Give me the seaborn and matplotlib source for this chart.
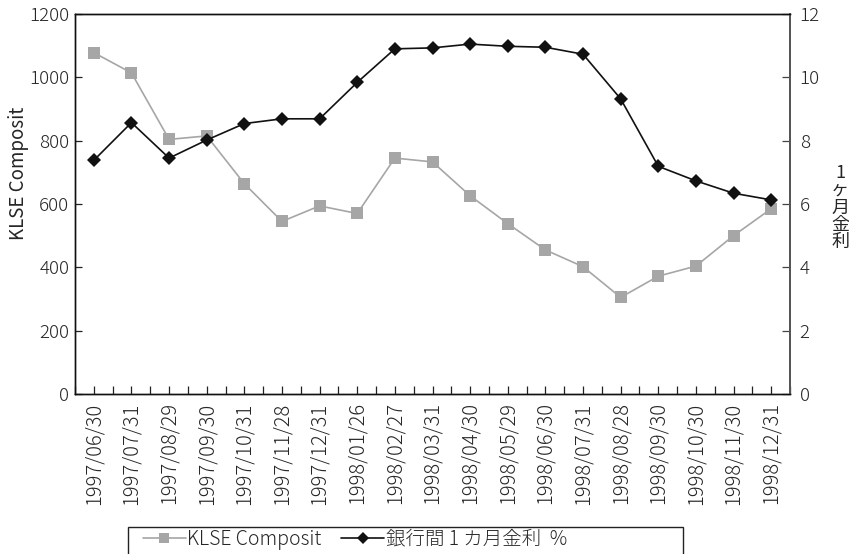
import matplotlib
matplotlib.use("Agg")
import matplotlib.pyplot as plt
from matplotlib.lines import Line2D
from matplotlib.patches import Rectangle
from matplotlib.ticker import FixedLocator
import numpy as np
import pandas as pd
import seaborn as sns

dates = [
    "1997/06/30", "1997/07/31", "1997/08/29", "1997/09/30", "1997/10/31",
    "1997/11/28", "1997/12/31", "1998/01/26", "1998/02/27", "1998/03/31",
    "1998/04/30", "1998/05/29", "1998/06/30", "1998/07/31", "1998/08/28",
    "1998/09/30", "1998/10/30", "1998/11/30", "1998/12/31",
]
klse = [1078, 1014, 804, 815, 664, 545, 594, 570, 745, 733,
        626, 538, 455, 402, 305, 372, 404, 500, 585]
rate = [7.38, 8.57, 7.45, 8.02, 8.54, 8.69, 8.69, 9.84, 10.90, 10.93,
        11.05, 10.98, 10.95, 10.73, 9.32, 7.19, 6.73, 6.34, 6.13]

klse_label = "KLSE Composit"
rate_label = "銀行間 1 カ月金利  %"
right_axis_label = "1\nヶ\n月\n金\n利"

sns.set_theme(style="white")
plt.rcParams["font.family"] = ["Noto Sans CJK JP", "DejaVu Sans"]
plt.rcParams["font.weight"] = "light"

df = pd.DataFrame({"date": dates, "klse": klse, "rate": rate})

fig = plt.figure(figsize=(8.49, 5.54), dpi=100)
ax = fig.add_axes([75 / 849, 1 - 394 / 554, 715 / 849, 380 / 554])
ax2 = ax.twinx()

gray = "#a6a6a6"
sns.lineplot(data=df, x="date", y="klse", ax=ax, color=gray, lw=1.2,
             marker="s", markersize=8, markeredgewidth=0, sort=False)
sns.lineplot(data=df, x="date", y="rate", ax=ax2, color="#111111", lw=1.2,
             marker="D", markersize=7, markeredgewidth=0, sort=False)

n = len(dates)
ax.set_xlim(-0.5, n - 0.5)
ax.set_ylim(0, 1200)
ax.set_yticks(np.arange(0, 1201, 200))
ax2.set_ylim(0, 12)
ax2.set_yticks(np.arange(0, 13, 2))

ax.set_xticks(range(n))
ax.set_xticklabels(dates, rotation=90, fontsize=14.5)
ax.xaxis.set_minor_locator(FixedLocator(np.arange(-0.5, n, 1.0)))
ax.tick_params(axis="x", which="both", direction="in", length=6, width=0.9,
               color="#222222", bottom=True, pad=6)
ax.tick_params(axis="y", direction="in", length=5, width=0.9, color="#222222",
               labelsize=13.5, left=True, pad=4)
ax2.tick_params(axis="y", direction="in", length=6, width=0.9, color="#444444",
                labelsize=13.5, right=True, pad=7)

ax.set_xlabel("")
ax.set_ylabel(klse_label, fontsize=13.5)
ax.yaxis.set_label_coords(-0.064, 0.58)
ax2.set_ylabel(right_axis_label, fontsize=13, rotation=0, linespacing=0.95,
               va="center", ha="center")
ax2.yaxis.set_label_coords(1.07, 0.49)

for a in (ax, ax2):
    for side in ("left", "top", "bottom"):
        a.spines[side].set_color("#111111")
        a.spines[side].set_linewidth(1.0)
    a.spines["right"].set_color("#555555")
    a.spines["right"].set_linewidth(1.3)
    a.grid(False)

# legend box along the bottom edge
fig.patches.append(Rectangle((128 / 849, -0.05), (683 - 128) / 849, 0.05 + (554 - 527) / 554,
                             transform=fig.transFigure, fill=False,
                             edgecolor="#222222", linewidth=1.0))
handles = [
    Line2D([], [], color=gray, lw=1.2, marker="s", markersize=7, markeredgewidth=0),
    Line2D([], [], color="#111111", lw=1.2, marker="D", markersize=6, markeredgewidth=0),
]
fig.legend(handles, [klse_label, rate_label], loc="center left",
           bbox_to_anchor=(133 / 849, 1 - 539 / 554), ncol=2, frameon=False,
           fontsize=14, handlelength=2.2, handletextpad=0.1, columnspacing=1.0,
           borderpad=0.0)

fig.savefig("out.png", dpi=100)
